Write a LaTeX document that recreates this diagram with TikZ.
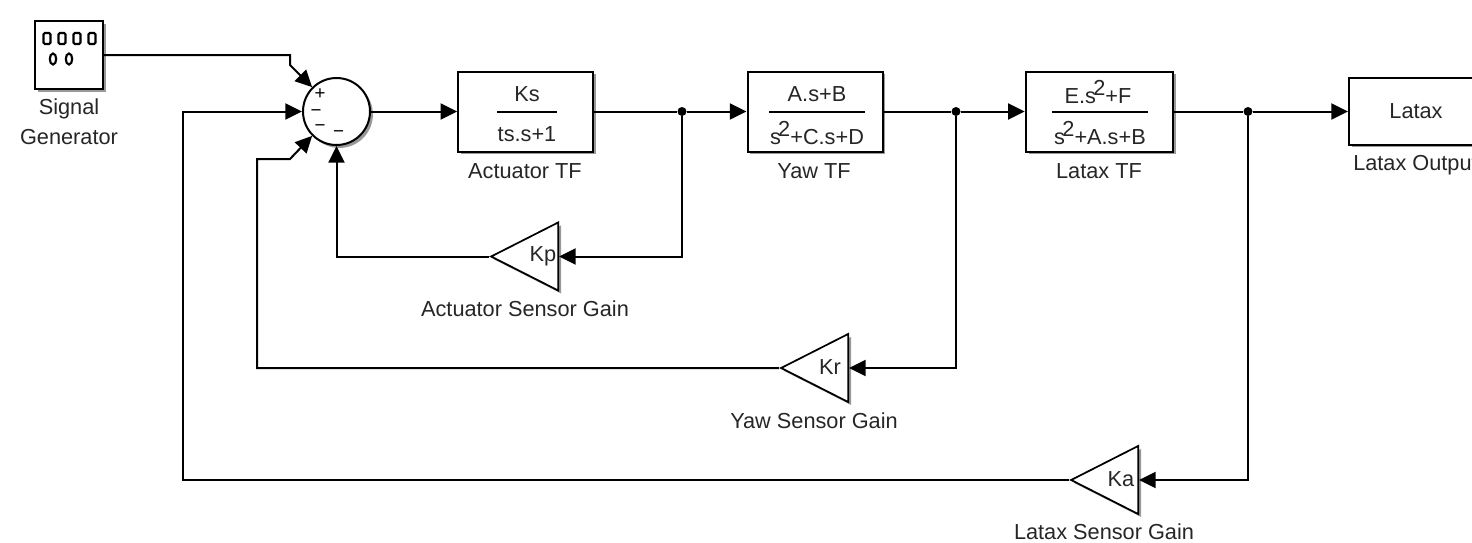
\documentclass[tikz,border=0pt]{standalone}
\usepackage{fontspec}
\setmainfont{Liberation Sans}
\usepackage{tikz}
\usetikzlibrary{arrows.meta, positioning, shapes.geometric, shadows}
\usepackage{xcolor}

\definecolor{txtgray}{gray}{0.15}
\newcommand{\sqd}{s\hspace{-2pt}\raisebox{6pt}{2}}
\tikzset{
    softshadow/.style={drop shadow={shadow xshift=2.2pt,shadow yshift=-2.2pt,fill=black,opacity=0.4}},
    blockbox/.style={draw,line width=1.5pt,fill=white,minimum width=135\px,minimum height=80\px,inner sep=0pt,softshadow},
    sumnode/.style={draw,circle,line width=1.5pt,fill=white,minimum size=67\px,inner sep=0pt,softshadow},
    gainbox/.style={draw,isosceles triangle,isosceles triangle stretches,shape border rotate=180,line width=1.3pt,fill=white,minimum width=68\px,minimum height=67\px,inner sep=0pt,anchor=lower side,softshadow},
    junct/.style={circle,fill=black,minimum size=9\px,inner sep=0pt},
    lbl/.style={text=txtgray,inner sep=0pt,font=\fontsize{16.3}{18}\selectfont},
    sgn/.style={inner sep=0pt,font=\fontsize{14}{14}\selectfont},
    sigline/.style={line width=1.5pt},
    sigarrow/.style={line width=1.5pt,-{Triangle[length=12.5pt,width=12pt]}},
    tfbar/.style={line width=1.5pt},
    icon/.style={line width=1.6pt}
}
\newcommand{\px}{*0.75pt}

\begin{document}
\begin{tikzpicture}[x=0.75pt,y=-0.75pt]
        \path[use as bounding box,clip] (0,0) rectangle (1472,543);

        \node[blockbox,minimum width=68\px,minimum height=68\px] (siggen) at (69,55) {};
        \foreach \xpos in {47,62,77,92}
            \draw[icon,rounded corners=1pt] (\xpos-3.5,33) rectangle (\xpos+3.5,44);
        \draw[icon] (53,59) ellipse (3.2 and 5.5);
        \draw[icon] (69,59) ellipse (3.2 and 5.5);
        \node[lbl] (siglabela) at (69,109) {Signal};
        \node[lbl] (siglabelb) at (69,137.5) {Generator};

        \node[sumnode] (sum) at (336.5,111.5) {};
        \node[sgn] (plusa) at (320,94) {+};
        \node[sgn] (minusa) at (316,113) {−};
        \node[sgn] (minusb) at (320,128) {−};
        \node[sgn] (minusc) at (338.5,134) {−};

        \node[blockbox] (act) at (525.8,111.5) {};
        \node[lbl] (actnum) at (527,94) {Ks};
        \node[lbl] (actden) at (527,134) {ts.s+1};
        \draw[tfbar] (497,112) -- (557,112);
        \node[lbl] (actlabel) at (525,171) {Actuator TF};

        \node[blockbox] (yaw) at (815,111.5) {};
        \node[lbl] (yawnum) at (817,94) {A.s+B};
        \node[lbl] (yawden) at (817,133) {\sqd{}+C.s+D};
        \draw[tfbar] (769,112) -- (865,112);
        \node[lbl] (yawlabel) at (814,171) {Yaw TF};

        \node[blockbox,minimum width=147\px] (ltx) at (1099.3,111.5) {};
        \node[lbl] (ltxnum) at (1098,92) {E.\sqd{}+F};
        \node[lbl] (ltxden) at (1100,133) {\sqd{}+A.s+B};
        \draw[tfbar] (1052,112) -- (1148,112);
        \node[lbl] (ltxlabel) at (1099,171) {Latax TF};

        \node[blockbox,minimum height=67\px] (out) at (1416.5,111) {};
        \node[lbl] (outtext) at (1416,111) {Latax};
        \node[lbl,anchor=west] (outlabel) at (1353,165) {Latax Output};

        \node[gainbox] (kp) at (559,256.5) {};
        \node[lbl] (kptext) at (543,256) {Kp};
        \node[lbl] (kplabel) at (525,308.5) {Actuator Sensor Gain};

        \node[gainbox] (kr) at (849,368) {};
        \node[lbl] (krtext) at (830,367) {Kr};
        \node[lbl] (krlabel) at (814,420.5) {Yaw Sensor Gain};

        \node[gainbox] (ka) at (1139,480) {};
        \node[lbl] (katext) at (1121,479) {Ka};
        \node[lbl] (kalabel) at (1104,532) {Latax Sensor Gain};

        \node[junct] (juncta) at (682,111.5) {};
        \node[junct] (junctb) at (956,111.5) {};
        \node[junct] (junctc) at (1248,111.5) {};

        \coordinate (sigbenda) at (290,55);
        \coordinate (sigbendb) at (290,65);
        \coordinate (krbenda) at (257,159);
        \coordinate (krbendb) at (290,159);
        \coordinate (kabend) at (183,111.5);

        \draw[sigarrow] (siggen.east) -- (sigbenda) -- (sigbendb) -- (sum.135);
        \draw[sigarrow] (sum.east) -- (act.west);
        \draw[sigline] (act.east) -- (juncta);
        \draw[sigarrow] (juncta) -- (yaw.west);
        \draw[sigline] (yaw.east) -- (junctb);
        \draw[sigarrow] (junctb) -- (ltx.west);
        \draw[sigline] (ltx.east) -- (junctc);
        \draw[sigarrow] (junctc) -- (out.west |- junctc);

        \draw[sigarrow] (juncta) |- (kp.lower side);
        \draw[sigarrow] (kp.apex) -| (sum.south);
        \draw[sigarrow] (junctb) |- (kr.lower side);
        \draw[sigarrow] (kr.apex) -| (krbenda) -- (krbendb) -- (sum.225);
        \draw[sigarrow] (junctc) |- (ka.lower side);
        \draw[sigarrow] (ka.apex) -| (kabend) -- (sum.west);
    \end{tikzpicture}
\end{document}
